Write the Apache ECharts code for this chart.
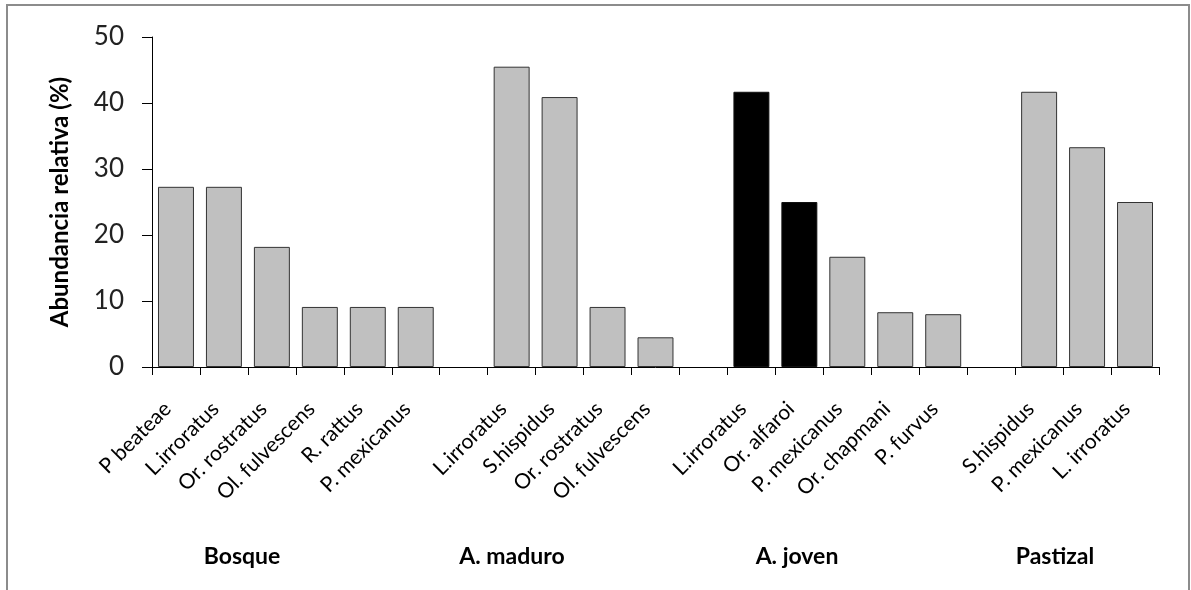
<!DOCTYPE html>
<html>
<head>
<meta charset="utf-8">
<script src="https://cdn.jsdelivr.net/npm/echarts@6/dist/echarts.min.js"></script>
<style>
html,body{margin:0;padding:0;background:#fff;}
#c{width:1191px;height:590px;}
</style>
</head>
<body>
<div id="c"></div>
<script>
var categories = ['P beateae','L.irroratus','Or. rostratus','Ol. fulvescens','R. rattus','P. mexicanus','',
  'L.irroratus','S.hispidus','Or. rostratus','Ol. fulvescens','',
  'L.irroratus','Or. alfaroi','P. mexicanus','Or. chapmani','P. furvus','',
  'S.hispidus','P. mexicanus','L. irroratus'];
var values = [27.3,27.3,18.2,9.1,9.1,9.1,null,
  45.5,40.9,9.1,4.5,null,
  41.7,25.0,16.7,8.3,8.0,null,
  41.7,33.3,25.0];
var darkBars = [12,13];
var groupNames = ['Bosque','A. maduro','A. joven','Pastizal'];
var yTicks = [0,10,20,30,40,50];

var chart = echarts.init(document.getElementById('c'));
var font = 'Lato, "Open Sans", sans-serif';
var seriesData = values.map(function(v,i){
  if (v === null) return '-';
  var dark = darkBars.indexOf(i) >= 0;
  return {value:v, itemStyle:{color: dark ? '#000000' : '#c0c0c0', borderColor: dark ? '#111' : '#333', borderWidth:1}};
});
var groupX = [242, 512, 797, 1055];
var graphics = [{
  type:'rect', shape:{x:7,y:5,width:1182,height:620},
  style:{fill:null, stroke:'#8c8c8c', lineWidth:2}, silent:true
}];
groupNames.forEach(function(g,i){
  graphics.push({type:'text', x:groupX[i], y:557, style:{text:g, font:'bold 23px '+font, fill:'#000', align:'center', verticalAlign:'middle'}});
});
chart.setOption({
  animation:false,
  backgroundColor:'#fff',
  grid:{left:152, right:32, top:37, bottom:223, containLabel:false},
  xAxis:{
    type:'category', data:categories,
    axisLine:{lineStyle:{color:'#000',width:1}},
    axisTick:{show:true, length:8, interval:0, lineStyle:{color:'#000'}},
    axisLabel:{interval:0, rotate:45, fontSize:21, fontFamily:font, color:'#000', margin:30, padding:[0,12,0,0]}
  },
  yAxis:{
    type:'value', min:0, max:50, interval:10,
    name:'Abundancia relativa (%)', nameLocation:'middle', nameGap:80, nameRotate:90,
    nameTextStyle:{fontSize:24, fontWeight:'bold', fontFamily:font, color:'#000'},
    axisLine:{show:true, lineStyle:{color:'#000',width:1}},
    axisTick:{show:true, length:10, inside:false, lineStyle:{color:'#000'}},
    splitLine:{show:false},
    axisLabel:{fontSize:26, fontFamily:font, color:'#222', margin:28,
      formatter:function(v){return yTicks.indexOf(v)>=0 ? String(v) : '';}}
  },
  series:[{type:'bar', data:seriesData, barCategoryGap:'25%'}],
  graphic:graphics
});
</script>
</body>
</html>
